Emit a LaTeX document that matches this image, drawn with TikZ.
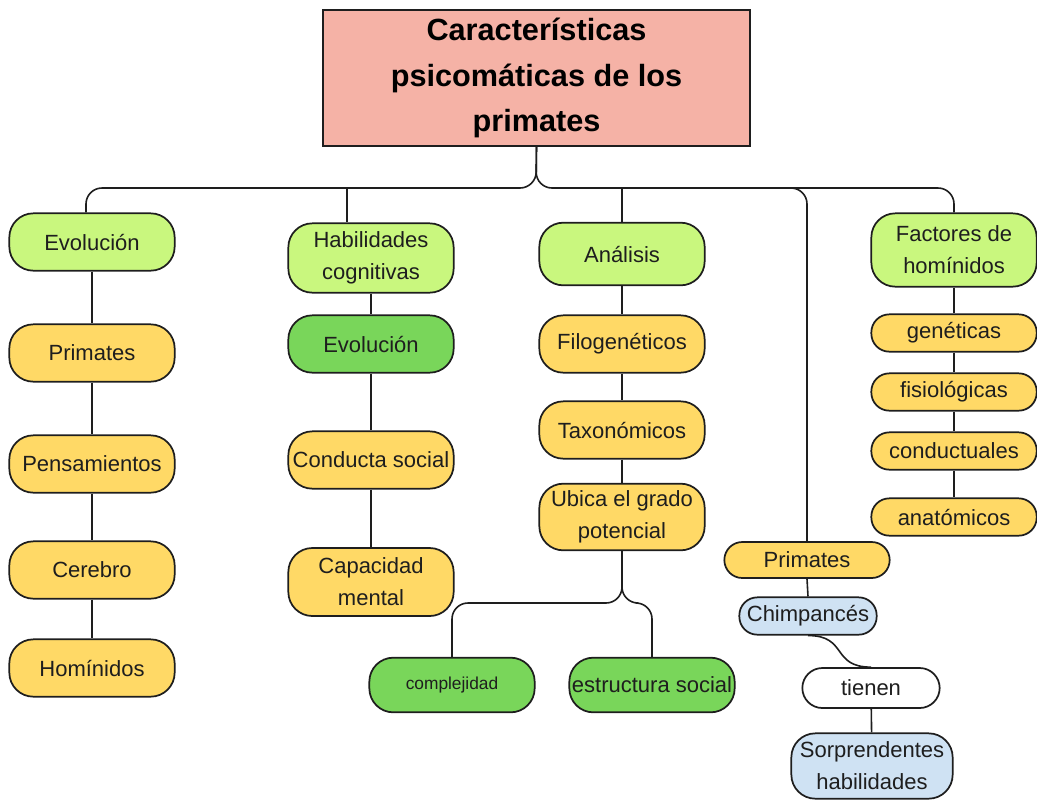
\documentclass[tikz,border=0pt]{standalone}
\usepackage{fontspec}
\setmainfont{Liberation Sans}
\usepackage{tikz}
\usetikzlibrary{positioning, calc}

\definecolor{cSalmon}{HTML}{F5B2A6}
\definecolor{cLime}{HTML}{C9F77E}
\definecolor{cSun}{HTML}{FFD966}
\definecolor{cLeaf}{HTML}{79D65A}
\definecolor{cSky}{HTML}{CFE2F3}
\definecolor{cInk}{HTML}{1E1E1E}

\begin{document}
\begin{tikzpicture}[x=0.75pt, y=-0.75pt,
  box/.style={draw=cInk, line width=1.3pt, rounded corners=18pt, minimum width=124pt,
    minimum height=43pt, inner sep=1.5pt, align=center, text=cInk,
    font=\fontsize{16.5}{24}\selectfont},
  headbox/.style={box, fill=cLime},
  itembox/.style={box, fill=cSun},
  darkbox/.style={box, fill=cLeaf},
  skybox/.style={box, fill=cSky},
  thinbox/.style={minimum height=28pt, rounded corners=13.5pt},
  link/.style={draw=cInk, line width=1.2pt}]
\useasboundingbox (0,0) rectangle (1037,804);

% title
\node[draw=cInk, line width=1.3pt, fill=cSalmon, minimum width=320pt, minimum height=102pt,
  align=center, font=\fontsize{23}{34}\selectfont\bfseries, text=black]
  (root) at (536.5,78) {Características\\psicomáticas de los\\primates};

% first column
\node[headbox] (evoA) at (92,242) {Evolución};
\node[itembox] (primA) at (92,353) {Primates};
\node[itembox] (pens) at (92,464) {Pensamientos};
\node[itembox] (cereb) at (92,570) {Cerebro};
\node[itembox] (homin) at (92,668) {Homínidos};

% second column
\node[headbox, minimum height=52pt] (habil) at (371,258) {Habilidades\\cognitivas};
\node[darkbox] (evoB) at (371,344) {Evolución};
\node[itembox] (conduc) at (371,460) {Conducta social};
\node[itembox, minimum height=51pt] (capac) at (371,582) {Capacidad\\mental};

% third column
\node[headbox, minimum height=47pt] (analisis) at (622,254) {Análisis};
\node[itembox] (filo) at (622,344) {Filogenéticos};
\node[itembox] (taxo) at (622,430) {Taxonómicos};
\node[itembox, minimum height=50pt] (ubica) at (622,517) {Ubica el grado\\potencial};
\node[darkbox, minimum height=41pt, font=\fontsize{13}{16}\selectfont] (compl) at (452,685) {complejidad};
\node[darkbox, minimum height=41pt] (estr) at (652,685) {estructura social};

% last column
\node[headbox, minimum height=55pt] (factores) at (954,250) {Factores de\\homínidos};
\node[itembox, thinbox] (genet) at (954,333) {genéticas};
\node[itembox, thinbox] (fisio) at (954,392) {fisiológicas};
\node[itembox, thinbox] (conduct) at (954,451) {conductuales};
\node[itembox, thinbox] (anato) at (954,517) {anatómicos};

% primates branch
\node[itembox, thinbox, minimum height=27pt] (primB) at (807,560) {Primates};
\node[skybox, thinbox, minimum width=103pt] (chimp) at (808,616) {Chimpancés};
\node[box, thinbox, fill=white, minimum width=103pt, minimum height=30pt, rounded corners=15pt] (tienen) at (871,688) {tienen};
\node[skybox, minimum width=121pt, minimum height=49pt] (sorp) at (872,766) {Sorprendentes\\habilidades};

% main bar
\coordinate (hub) at (536,188);
\coordinate (tap) at (777,188);
\coordinate (stemA) at (86,188);
\coordinate (stemB) at (347,188);
\coordinate (fork) at (622,603);
\draw[link, rounded corners=12pt] (root.south) -- (hub) -- (stemA) -- (stemA |- evoA.north);
\draw[link, rounded corners=12pt] (root.south) -- (hub) -| (factores.north);
\draw[link] (stemB) -- (stemB |- habil.north);
\draw[link] (analisis.north) -- (analisis.north |- hub);
\draw[link, rounded corners=12pt] (tap) -| (primB.north);

% chains
\draw[link] (evoA) -- (primA);
\draw[link] (primA) -- (pens);
\draw[link] (pens) -- (cereb);
\draw[link] (cereb) -- (homin);
\draw[link] (habil) -- (evoB);
\draw[link] (evoB) -- (conduc);
\draw[link] (conduc) -- (capac);
\draw[link] (analisis) -- (filo);
\draw[link] (filo) -- (taxo);
\draw[link] (taxo) -- (ubica);
\draw[link, rounded corners=12pt] (ubica.south) -- (fork) -| (compl.north);
\draw[link, rounded corners=12pt] (ubica.south) -- (fork) -| (estr.north);
\draw[link] (factores) -- (genet);
\draw[link] (genet) -- (fisio);
\draw[link] (fisio) -- (conduct);
\draw[link] (conduct) -- (anato);
\draw[link] (primB.south) -- (chimp.north);
\draw[link] (chimp.south) .. controls +(40,0) and +(-40,0) .. (tienen.north);
\draw[link] (tienen) -- (sorp);
\end{tikzpicture}
\end{document}
